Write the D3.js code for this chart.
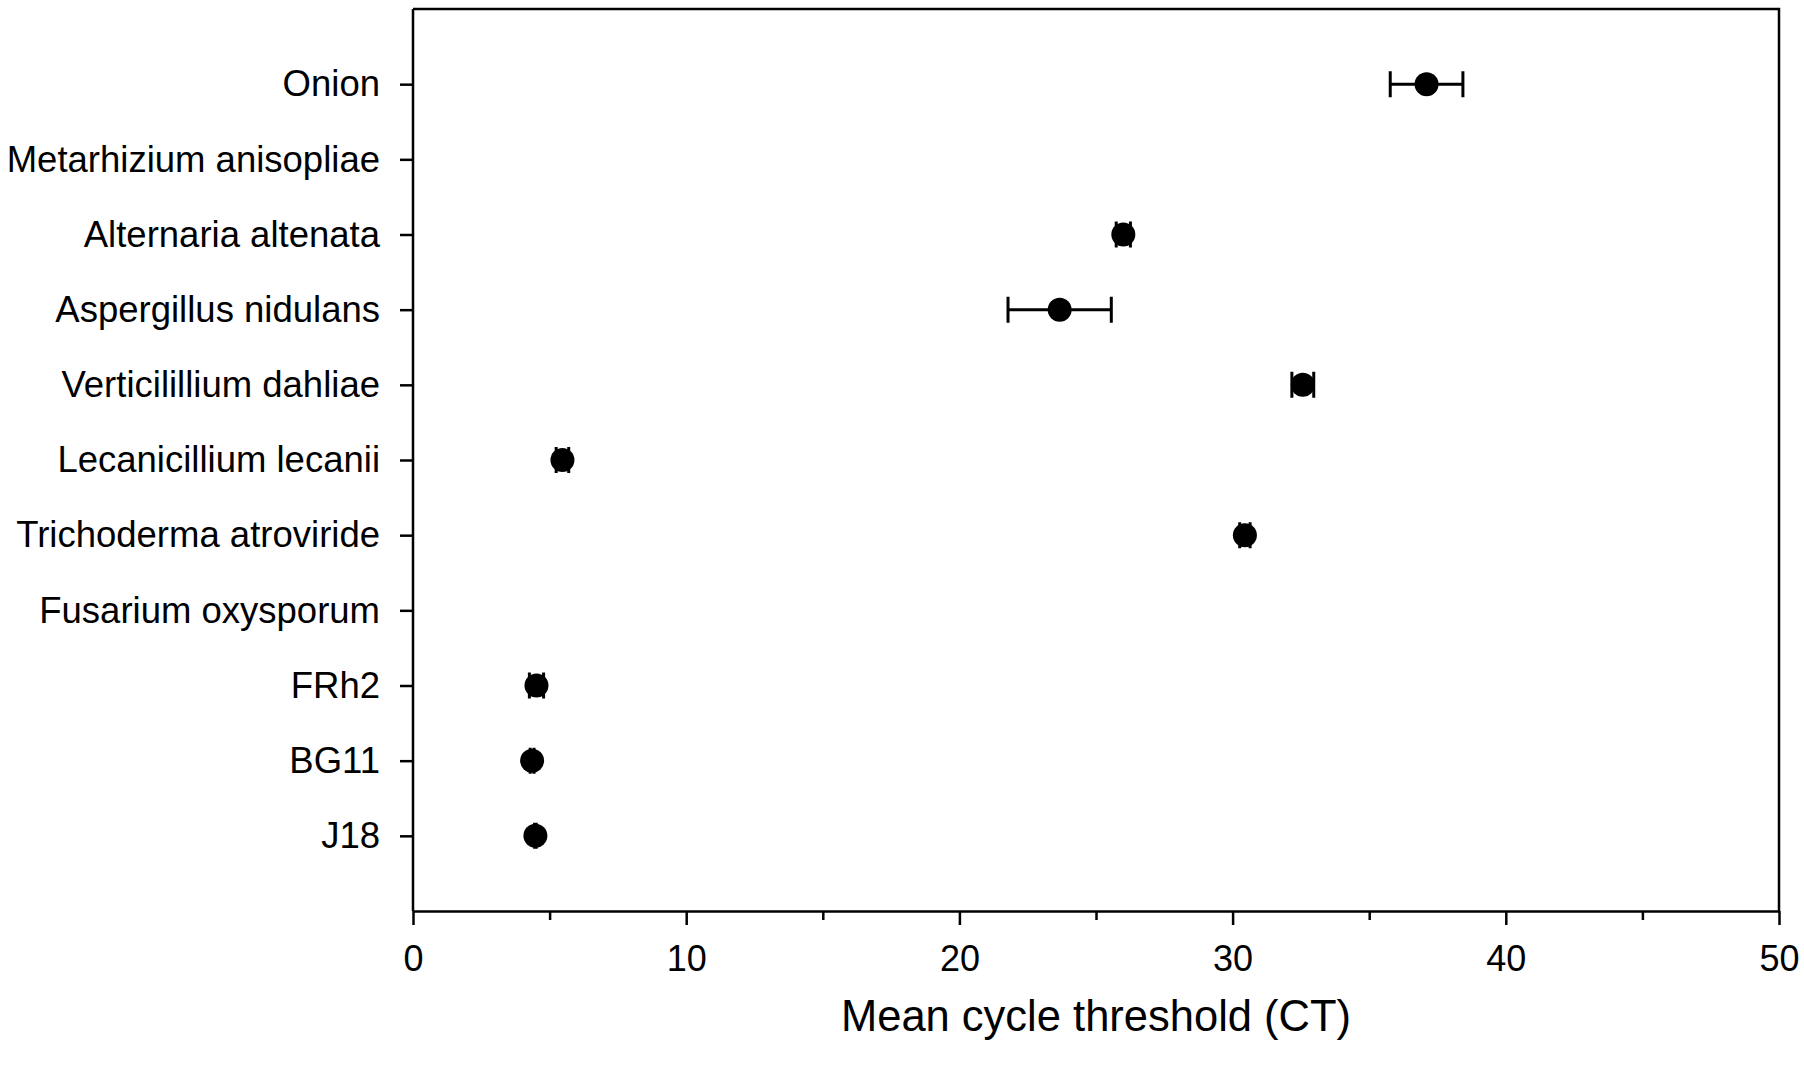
<!DOCTYPE html>
<html>
	<head>
		<meta charset="utf-8" />
		<title>Mean cycle threshold</title>
		<script src="https://d3js.org/d3.v7.min.js"></script>
		<style>
			body { margin: 0; background: #fff; }
			text { font-family: "Liberation Sans", Arial, sans-serif; fill: #000; }
		</style>
	</head>
	<body>
		<svg width="1804" height="1080"></svg>
		<script>
			// data (null = no amplification)
			const categories = [
				"Onion",
				"Metarhizium anisopliae",
				"Alternaria altenata",
				"Aspergillus nidulans",
				"Verticilillium dahliae",
				"Lecanicillium lecanii",
				"Trichoderma atroviride",
				"Fusarium oxysporum",
				"FRh2",
				"BG11",
				"J18"
			];
			const meanCT = [37.1, null, 26.0, 23.67, 32.57, 5.47, 30.45, null, 4.52, 4.36, 4.48];
			const errCT = [1.33, null, 0.26, 1.89, 0.4, 0.23, 0.19, null, 0.26, 0.07, 0.03];
			const xMajorTicks = [0, 10, 20, 30, 40, 50];
			const xMinorTicks = [5, 15, 25, 35, 45];

			const svg = d3.select("svg");
			const plotL = 413, plotR = 1779, plotT = 9, plotB = 911;

			const x = d3.scaleLinear().domain([0, 50]).range([plotL, plotR]);
			const y = d3.scalePoint().domain(categories).range([plotT, plotB]).padding(1);

			const rows = categories
				.map((c, i) => ({ name: c, mean: meanCT[i], err: errCT[i] }))
				.filter((d) => d.mean != null);

			// frame (top and right sides)
			svg.append("path")
				.attr("d", `M${plotL},${plotT}H${plotR}V${plotB}`)
				.attr("fill", "none")
				.attr("stroke", "#000")
				.attr("stroke-width", 2.5);

			// x axis, major ticks with labels
			const gx = svg.append("g")
				.attr("transform", `translate(0,${plotB})`)
				.call(d3.axisBottom(x).tickValues(xMajorTicks).tickSizeInner(14).tickSizeOuter(0).tickPadding(20).tickFormat(d3.format("d")));
			gx.select(".domain").attr("stroke-width", 2.5);
			gx.selectAll(".tick line").attr("stroke-width", 2.5);
			gx.selectAll(".tick text").style("font-size", "36px").style("font-family", "Liberation Sans, Arial, sans-serif");

			// x axis, minor ticks
			const gxm = svg.append("g")
				.attr("transform", `translate(0,${plotB})`)
				.call(d3.axisBottom(x).tickValues(xMinorTicks).tickSizeInner(9).tickSizeOuter(0).tickFormat(""));
			gxm.select(".domain").remove();
			gxm.selectAll(".tick line").attr("stroke-width", 2.5);

			// y axis
			const gy = svg.append("g")
				.attr("transform", `translate(${plotL},0)`)
				.call(d3.axisLeft(y).tickSizeInner(13).tickSizeOuter(0).tickPadding(20));
			gy.select(".domain").attr("stroke-width", 2.5).attr("d", `M0,${plotT}V${plotB}`);
			gy.selectAll(".tick line").attr("stroke-width", 2.5);
			gy.selectAll(".tick text").style("font-size", "36.5px").style("font-family", "Liberation Sans, Arial, sans-serif");

			// axis title
			svg.append("text")
				.attr("x", (plotL + plotR) / 2)
				.attr("y", 1031)
				.attr("text-anchor", "middle")
				.style("font-size", "43.5px")
				.text("Mean cycle threshold (CT)");

			// error bars
			const capH = 13;
			const bars = svg.append("g").attr("stroke", "#000").attr("stroke-width", 3).attr("fill", "none");
			bars.selectAll("path")
				.data(rows)
				.join("path")
				.attr("d", (d) => {
					const yy = y(d.name), x0 = x(d.mean - d.err), x1 = x(d.mean + d.err);
					return `M${x0},${yy}H${x1}M${x0},${yy - capH}V${yy + capH}M${x1},${yy - capH}V${yy + capH}`;
				});

			// points
			svg.append("g")
				.selectAll("circle")
				.data(rows)
				.join("circle")
				.attr("cx", (d) => x(d.mean))
				.attr("cy", (d) => y(d.name))
				.attr("r", 12)
				.attr("fill", "#000");
		</script>
	</body>
</html>
